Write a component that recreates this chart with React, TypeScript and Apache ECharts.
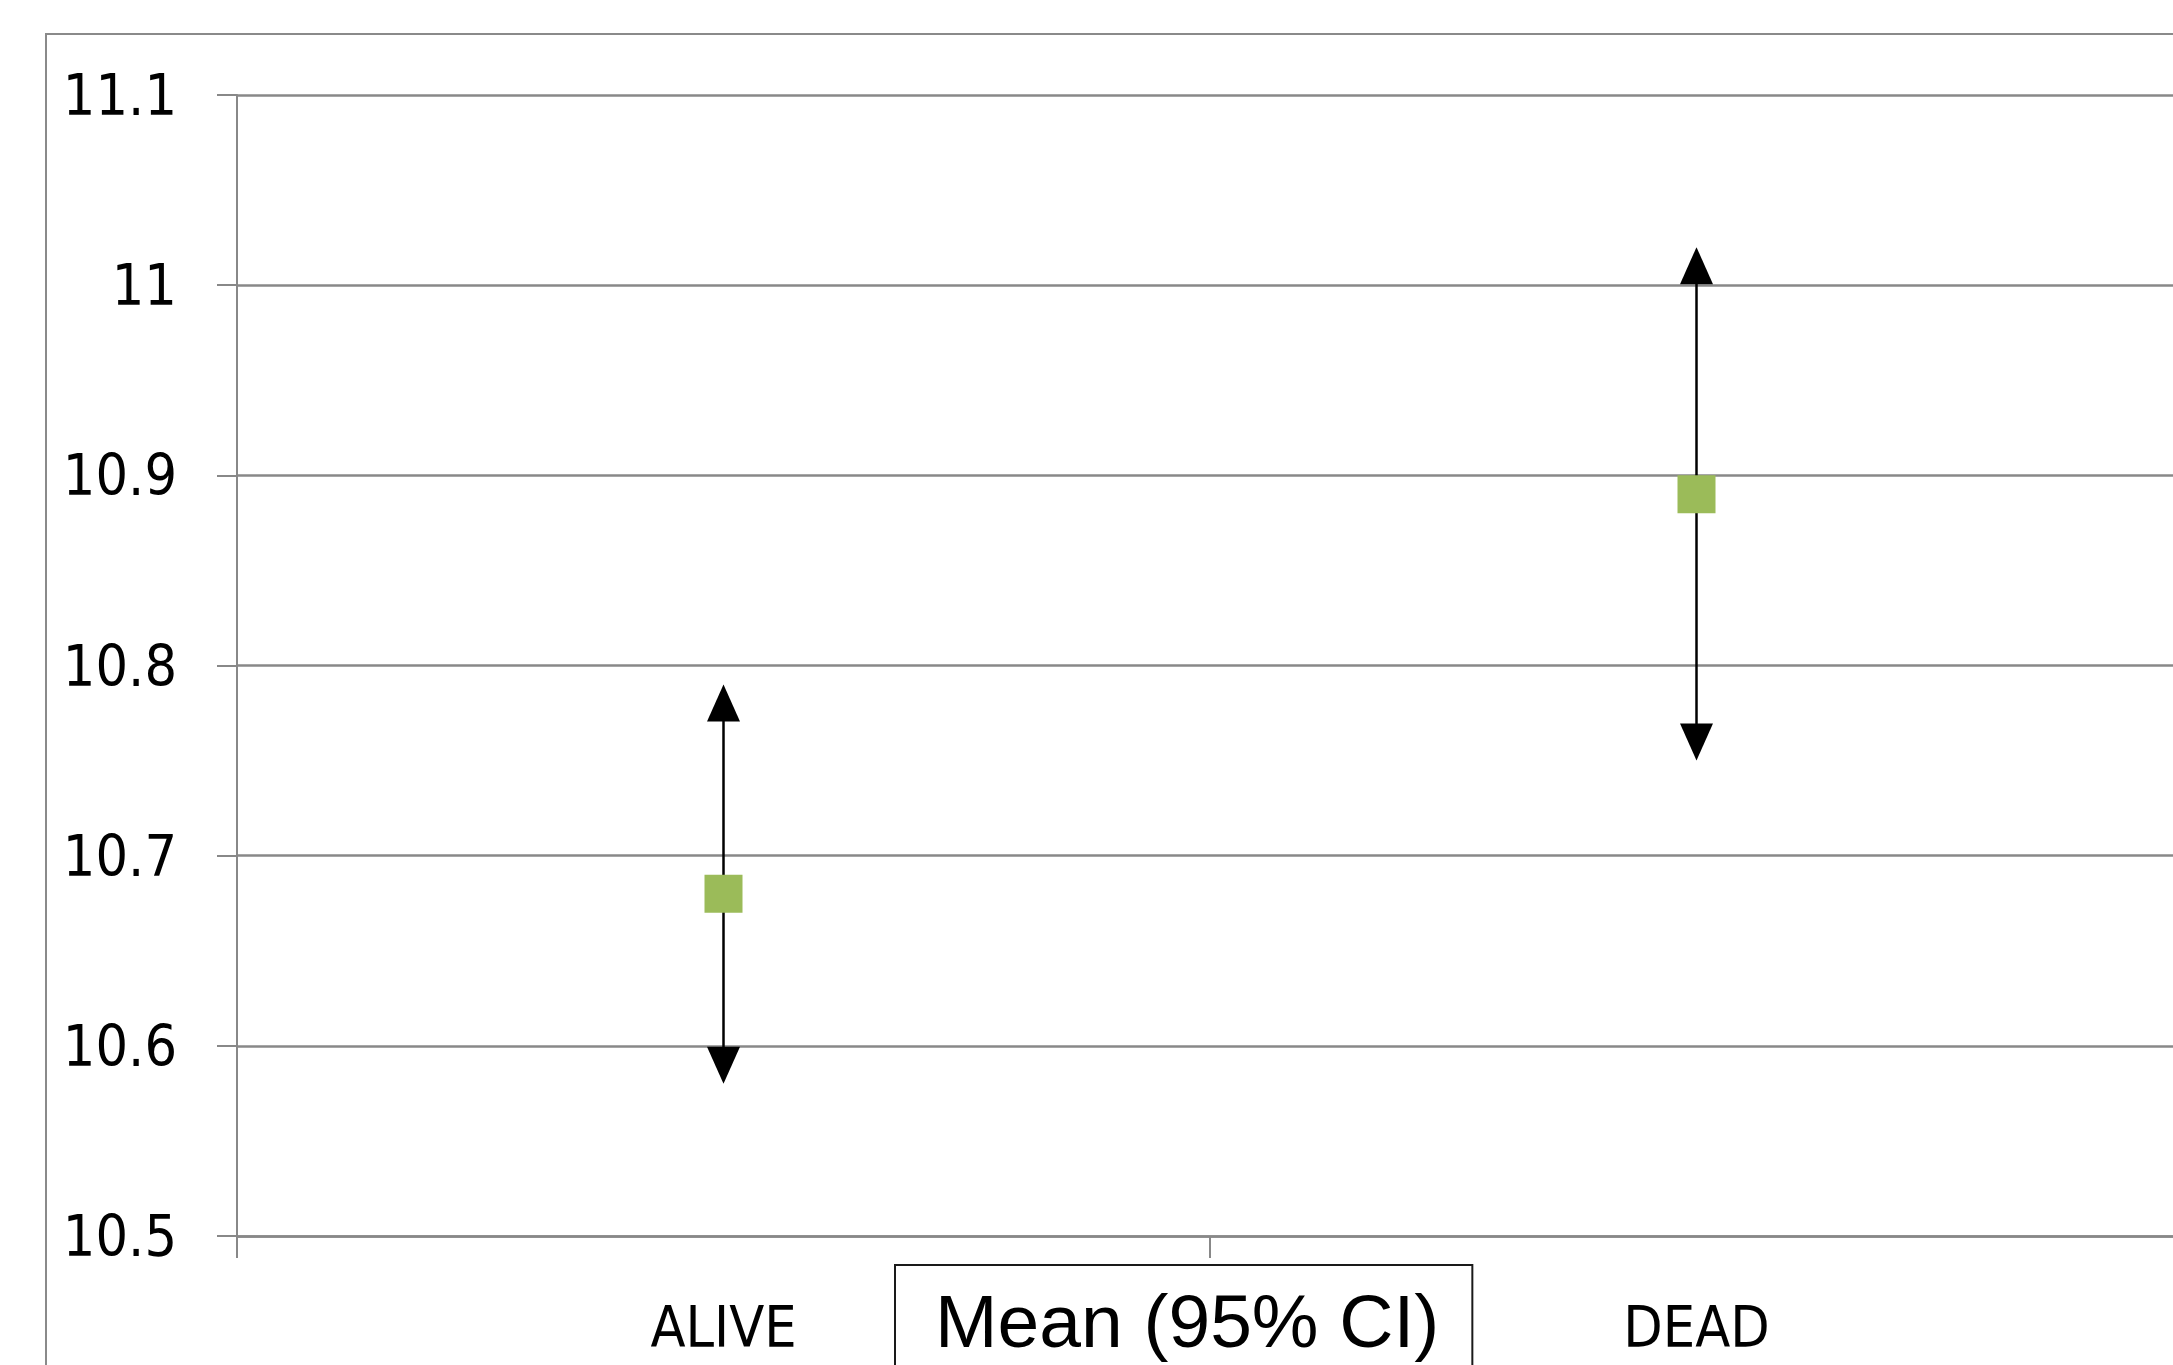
import React, { useEffect, useRef } from "react";
import * as echarts from "echarts";

const categories = ["ALIVE", "DEAD"];
const means = [10.68, 10.89];
const lower = [10.58, 10.75];
const upper = [10.79, 11.02];
const seriesName = "Mean (95% CI)";
const yMin = 10.5;
const yMax = 11.1;
const yStep = 0.1;

const AXIS_FONT = "'Liberation Sans Narrow', 'DejaVu Sans Condensed', Lato, sans-serif";

export default function App() {
  const ref = useRef<HTMLDivElement>(null);
  useEffect(() => {
    if (!ref.current) return;
    const chart = echarts.init(ref.current, null, { renderer: "svg" });
    const option: any = {
      animation: false,
      backgroundColor: "#ffffff",
      graphic: [
        {
          type: "rect",
          x: 46,
          y: 34,
          shape: { width: 2400, height: 1600 },
          style: { fill: "none", stroke: "#8a8a8a", lineWidth: 2 },
          silent: true,
          z: -1,
        },
      ],
      grid: {
        left: 237,
        top: 95,
        bottom: 129,
        width: 1946,
        containLabel: false,
        outerBoundsMode: "none",
      },
      legend: {
        data: [seriesName],
        left: 895,
        top: 1265,
        itemWidth: 0,
        itemHeight: 0,
        borderColor: "#1a1a1a",
        borderWidth: 2,
        padding: [18, 33, 40, 35],
        textStyle: { fontFamily: "'Liberation Sans', Arial, sans-serif", fontSize: 75, color: "#000" },
        selectedMode: false,
      },
      xAxis: {
        type: "category",
        data: categories,
        boundaryGap: true,
        axisLine: { show: true, lineStyle: { color: "#888888", width: 2.5 } },
        axisTick: { show: true, length: 22, lineStyle: { color: "#888888", width: 2 } },
        axisLabel: { margin: 62, fontFamily: AXIS_FONT, fontSize: 57, color: "#000" },
        splitLine: { show: false },
      },
      yAxis: {
        type: "value",
        min: yMin,
        max: yMax,
        interval: yStep,
        axisLine: { show: true, lineStyle: { color: "#888888", width: 2 } },
        axisTick: { show: true, length: 20, lineStyle: { color: "#888888", width: 2 } },
        axisLabel: {
          margin: 60,
          fontFamily: AXIS_FONT,
          fontSize: 57,
          color: "#000",
          formatter: (v: number) => String(Math.round(v * 10) / 10),
        },
        splitLine: { show: true, lineStyle: { color: "#888888", width: 2.5 } },
      },
      series: [
        {
          type: "custom",
          name: "ci",
          z: 2,
          data: categories.map((_, i) => [i, lower[i], upper[i]]),
          encode: { x: 0, y: [1, 2] },
          renderItem: (params: any, api: any) => {
            const idx = api.value(0);
            const pLo = api.coord([idx, api.value(1)]);
            const pHi = api.coord([idx, api.value(2)]);
            const cx = pLo[0];
            const ah = 37;
            const aw = 33;
            return {
              type: "group",
              children: [
                {
                  type: "line",
                  shape: { x1: cx, y1: pHi[1] + ah - 2, x2: cx, y2: pLo[1] - ah + 2 },
                  style: { stroke: "#000", lineWidth: 2.5 },
                },
                {
                  type: "polygon",
                  shape: { points: [[cx, pHi[1]], [cx - aw / 2, pHi[1] + ah], [cx + aw / 2, pHi[1] + ah]] },
                  style: { fill: "#000" },
                },
                {
                  type: "polygon",
                  shape: { points: [[cx, pLo[1]], [cx - aw / 2, pLo[1] - ah], [cx + aw / 2, pLo[1] - ah]] },
                  style: { fill: "#000" },
                },
              ],
            };
          },
        },
        {
          type: "scatter",
          name: seriesName,
          z: 3,
          symbol: "rect",
          symbolSize: 38,
          itemStyle: { color: "#9BBB59", opacity: 1 },
          data: means.map((m, i) => [i, m]),
        },
      ],
    };
    chart.setOption(option);
    return () => chart.dispose();
  }, []);
  return (
    <div
      ref={ref}
      style={{ position: "absolute", left: 0, top: 0, width: 2173, height: 1365 }}
    />
  );
}
